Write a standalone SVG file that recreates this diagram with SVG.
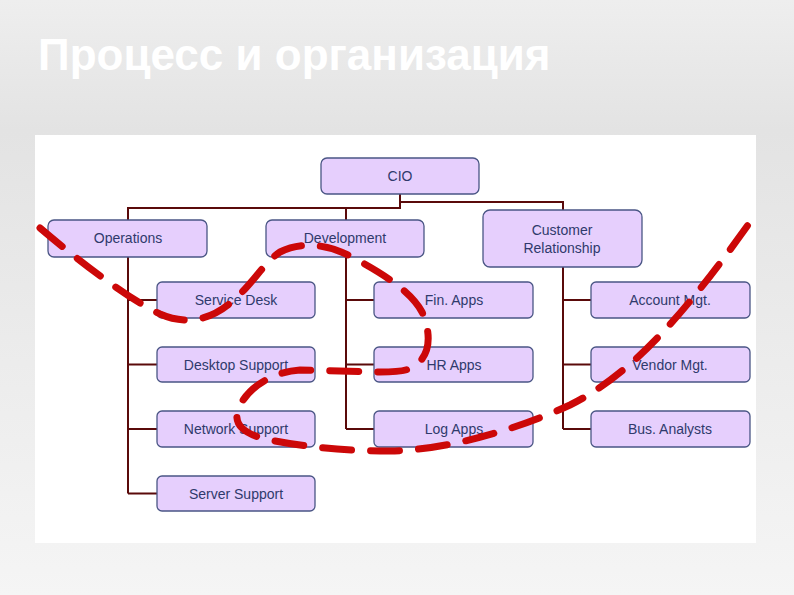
<svg xmlns="http://www.w3.org/2000/svg" width="794" height="595" viewBox="0 0 794 595">
<defs>
<linearGradient id="bg" x1="0" y1="0" x2="0" y2="1">
<stop offset="0" stop-color="#eeeeee"/>
<stop offset="0.22" stop-color="#e3e3e3"/>
<stop offset="1" stop-color="#f5f5f5"/>
</linearGradient>
<style>
.box{fill:#e6cffd;stroke:#4a5685;stroke-width:1.3}
.lbl{font-family:"Liberation Sans",Arial,sans-serif;font-size:14px;fill:#2f3a6c;text-anchor:middle}
.con{fill:none;stroke:#5a0a0a;stroke-width:2}
.red{fill:none;stroke:#cc0808;stroke-width:7;stroke-linecap:round;stroke-dasharray:29 19}
</style>
</defs>
<rect width="794" height="595" fill="url(#bg)"/>
<text x="38" y="70" font-family="'Liberation Sans',Arial,sans-serif" font-size="44" font-weight="bold" fill="#ffffff">Процесс и организация</text>
<rect x="35" y="135" width="721" height="408" fill="#ffffff"/>
<g id="connectors">
<path class="con" d="M400,194 V208 H128 V220 M346,208 V220 M400,202 H563 V210"/>
<path class="con" d="M128,257 V493.5 M128,300 H157 M128,364.5 H157 M128,429 H157 M128,493.5 H157"/>
<path class="con" d="M346,257 V429 M346,300 H374 M346,364.5 H374 M346,429 H374"/>
<path class="con" d="M563,267 V429 M563,300 H591 M563,364.5 H591 M563,429 H591"/>
</g>
<g id="cio"><rect class="box" x="321" y="158" width="158" height="36" rx="6"/><text class="lbl" x="400" y="181">CIO</text></g>
<g id="operations"><rect class="box" x="48" y="220" width="159" height="37" rx="6"/><text class="lbl" x="128" y="243">Operations</text></g>
<g id="development"><rect class="box" x="266" y="220" width="158" height="37" rx="6"/><text class="lbl" x="345" y="243">Development</text></g>
<g id="customer"><rect class="box" x="483" y="210" width="159" height="57" rx="7"/><text class="lbl" x="562" y="235">Customer</text><text class="lbl" x="562" y="253">Relationship</text></g>
<g id="service-desk"><rect class="box" x="157" y="282" width="158" height="36" rx="5"/><text class="lbl" x="236" y="305">Service Desk</text></g>
<g id="desktop-support"><rect class="box" x="157" y="347" width="158" height="35" rx="5"/><text class="lbl" x="236" y="369.5">Desktop Support</text></g>
<g id="network-support"><rect class="box" x="157" y="411" width="158" height="36" rx="5"/><text class="lbl" x="236" y="434">Network Support</text></g>
<g id="server-support"><rect class="box" x="157" y="476" width="158" height="35" rx="5"/><text class="lbl" x="236" y="498.5">Server Support</text></g>
<g id="fin-apps"><rect class="box" x="374" y="282" width="159" height="36" rx="5"/><text class="lbl" x="454" y="305">Fin. Apps</text></g>
<g id="hr-apps"><rect class="box" x="374" y="347" width="159" height="35" rx="5"/><text class="lbl" x="454" y="369.5">HR Apps</text></g>
<g id="log-apps"><rect class="box" x="374" y="411" width="159" height="36" rx="5"/><text class="lbl" x="454" y="434">Log Apps</text></g>
<g id="account-mgt"><rect class="box" x="591" y="282" width="159" height="36" rx="5"/><text class="lbl" x="670" y="305">Account Mgt.</text></g>
<g id="vendor-mgt"><rect class="box" x="591" y="347" width="159" height="35" rx="5"/><text class="lbl" x="670" y="369.5">Vendor Mgt.</text></g>
<g id="bus-analysts"><rect class="box" x="591" y="411" width="159" height="36" rx="5"/><text class="lbl" x="670" y="434">Bus. Analysts</text></g>
<path class="red" d="M40,228 C80,262 130,300 160,314 C185,325 212,322 238,296 C255,280 265,262 280,252 C300,242 325,243 350,256 C380,272 410,290 422,312 C432,335 430,355 415,366 C405,372 395,372 380,372 L300,370 C270,372 245,390 238,410 C233,425 245,435 270,440 C300,446 340,451 390,451 C450,450 520,428 570,405 C630,375 680,320 748,225"/>
</svg>
